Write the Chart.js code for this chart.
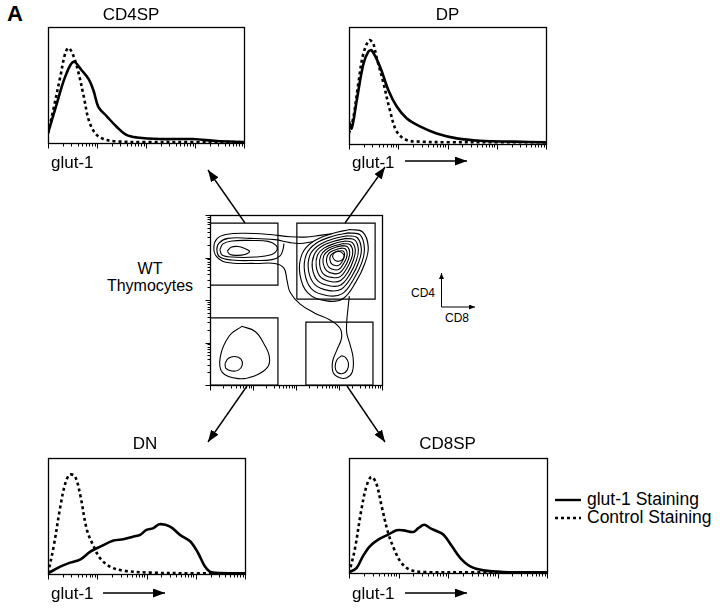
<!DOCTYPE html>
<html><head><meta charset="utf-8">
<script src="https://cdn.jsdelivr.net/npm/chart.js@4.4.1/dist/chart.umd.min.js"></script>
<style>
html,body{margin:0;padding:0;background:#fff;}
body{width:720px;height:608px;position:relative;overflow:hidden;font-family:"Liberation Sans",Arial,Helvetica,sans-serif;color:#000;}
canvas{position:absolute;}
.t{position:absolute;white-space:nowrap;line-height:1;}
svg{position:absolute;left:0;top:0;pointer-events:none;}
</style></head>
<body>
<canvas id="hCD4SP"></canvas>
<canvas id="hDP"></canvas>
<canvas id="hDN"></canvas>
<canvas id="hCD8SP"></canvas>
<canvas id="contour"></canvas>
<div id="texts"></div>
<svg width="720" height="608" viewBox="0 0 720 608">
  <defs>
    <marker id="ah" markerWidth="12" markerHeight="9" refX="12" refY="4.5" orient="auto" markerUnits="userSpaceOnUse"><path d="M0,0 L12,4.5 L0,9 z" fill="#000"/></marker>
    <marker id="ahs" markerWidth="6" markerHeight="5" refX="6" refY="2.5" orient="auto" markerUnits="userSpaceOnUse"><path d="M0,0 L6,2.5 L0,5 z" fill="#000"/></marker>
  </defs>
  <g stroke="#000" stroke-width="1.4" fill="none">
    <line x1="245" y1="223" x2="208" y2="170" marker-end="url(#ah)"/>
    <line x1="345" y1="223" x2="385" y2="167" marker-end="url(#ah)"/>
    <line x1="247" y1="386" x2="208" y2="442" marker-end="url(#ah)"/>
    <line x1="347" y1="386" x2="385" y2="442" marker-end="url(#ah)"/>
    <line x1="405" y1="161" x2="467" y2="161" marker-end="url(#ah)"/>
    <line x1="103" y1="593" x2="165" y2="593" marker-end="url(#ah)"/>
    <line x1="405" y1="593" x2="467" y2="593" marker-end="url(#ah)"/>
    <line x1="441.5" y1="307" x2="441.5" y2="273" stroke-width="1" marker-end="url(#ahs)"/>
    <line x1="441.5" y1="307" x2="475" y2="307" stroke-width="1" marker-end="url(#ahs)"/>
    <line x1="555" y1="500" x2="581" y2="500" stroke-width="2.4"/>
    <line x1="555" y1="518" x2="581" y2="518" stroke-width="2.4" stroke-dasharray="3 3"/>
  </g>
</svg>
<script>
// ---------------- DATA ----------------
// Histograms: x = log10 glut-1 fluorescence (decades 0..4), y = relative cell count (% of panel height)
const cd4spGlutX    = [0, 0.18, 0.35, 0.52, 0.69, 0.83, 0.93, 1.03, 1.2, 1.4, 1.6, 1.81, 2.28, 2.96, 3.44, 4.0];
const cd4spGlutY    = [8.5, 34, 57, 70, 62.5, 55, 45, 31, 23, 14, 7, 4.8, 3.4, 3.4, 1.7, 0.9];
const cd4spControlX = [0, 0.12, 0.25, 0.35, 0.42, 0.52, 0.62, 0.73, 0.83, 0.96, 1.13, 1.4, 2.0, 3.0, 4.0];
const cd4spControlY = [8.5, 31, 57, 77, 82, 75, 61, 40, 20, 8.5, 3.4, 1.4, 0.8, 0.8, 0.8];

const dpGlutX    = [0, 0.054, 0.156, 0.29, 0.39, 0.46, 0.63, 0.8, 0.97, 1.17, 1.44, 1.78, 2.19, 2.66, 3.34, 4.0];
const dpGlutY    = [19, 13.4, 37, 68, 78.7, 80, 66, 46, 32, 22, 15, 9, 4.8, 2.8, 2, 1.4];
const dpControlX = [0, 0.09, 0.19, 0.29, 0.41, 0.49, 0.56, 0.70, 0.83, 0.97, 1.17, 1.44, 2.0, 3.0, 4.0];
const dpControlY = [9, 23, 52, 77, 88.6, 86, 74, 52, 29, 10.5, 3.4, 2, 1.5, 1.5, 1.5];

const dnGlutX    = [0, 0.25, 0.45, 0.66, 0.86, 1.06, 1.33, 1.53, 1.74, 1.87, 2.0, 2.14, 2.26, 2.48, 2.68, 2.89, 3.05, 3.19, 3.32, 4.0];
const dnGlutY    = [0.6, 6.3, 9.8, 12.7, 19.3, 23.6, 28.8, 30, 32.3, 33.7, 38, 39.5, 42.9, 40.9, 33.7, 28, 17.9, 6.3, 1.4, 0.6];
const dnControlX = [0, 0.115, 0.25, 0.35, 0.44, 0.55, 0.66, 0.79, 0.93, 1.06, 1.26, 1.53, 2.07, 3.0, 4.0];
const dnControlY = [0.6, 23.6, 58, 78, 85.6, 84, 67, 38, 23.6, 13.5, 6.3, 2.9, 1.2, 0.6, 0.6];

const cd8spGlutX    = [0, 0.15, 0.28, 0.42, 0.59, 0.79, 0.96, 1.1, 1.3, 1.4, 1.52, 1.64, 1.77, 1.91, 2.08, 2.25, 2.45, 2.72, 3.12, 4.0];
const cd8spGlutY    = [0.6, 4.3, 14.5, 23.2, 29, 33.3, 37.1, 37.1, 35.7, 39, 42, 39, 36.5, 33.3, 23.2, 13, 5.8, 2.3, 0.9, 0.6];
const cd8spControlX = [0, 0.115, 0.25, 0.35, 0.45, 0.55, 0.66, 0.79, 0.93, 1.06, 1.23, 1.5, 2.5, 4.0];
const cd8spControlY = [0, 20, 55, 75, 83.5, 78, 58, 35, 19, 8.7, 2.9, 0.9, 0.6, 0.6];

const panelTitles = ['CD4SP', 'DP', 'DN', 'CD8SP'];
const seriesNames = ['glut-1 Staining', 'Control Staining'];
const axisLabel = 'glut-1';

// Contour plot: x = log10 CD8, y = log10 CD4 (decades 0..4)
const gateCD4SP = [[0,2.35],[0,3.81],[1.58,3.81],[1.58,2.35],[0,2.35]];
const gateDP    = [[2.02,2.02],[2.02,3.81],[3.84,3.81],[3.84,2.02],[2.02,2.02]];
const gateDN    = [[0,0],[0,1.58],[1.58,1.58],[1.58,0],[0,0]];
const gateCD8SP = [[2.23,0],[2.23,1.48],[3.79,1.48],[3.79,0],[2.23,0]];

const contourCD4Inner = [[0.40,3.15],[0.49,3.24],[0.65,3.26],[0.81,3.21],[0.92,3.14],[0.81,3.07],[0.63,3.05],[0.47,3.07],[0.40,3.15]];
const contourCD4Mid   = [[0.23,3.18],[0.30,3.32],[0.51,3.39],[0.98,3.40],[1.35,3.38],[1.53,3.29],[1.56,3.18],[1.44,3.07],[1.05,3.01],[0.51,3.01],[0.28,3.06],[0.23,3.18]];
const contourBandLow  = [[2.39,3.37],[2.09,3.33],[1.86,3.35],[1.51,3.42],[0.93,3.45],[0.42,3.45],[0.21,3.34],[0.16,3.18],[0.23,3.01],[0.51,2.94],[1.05,2.93],[1.44,2.95],[1.63,3.04],[1.70,3.20],[1.72,3.33]];
const contourOuter    = [[2.83,3.56],[2.56,3.52],[2.21,3.48],[1.86,3.49],[1.40,3.54],[0.81,3.57],[0.37,3.54],[0.16,3.44],[0.09,3.25],[0.14,3.04],[0.37,2.89],[1.05,2.86],[1.51,2.86],[1.72,2.75],[1.79,2.47],[1.86,2.19],[2.09,1.91],[2.44,1.69],[2.79,1.53],[3.02,1.34],[3.06,1.11],[2.95,0.82],[2.85,0.55],[2.87,0.28],[3.02,0.17],[3.18,0.17],[3.31,0.31],[3.33,0.63],[3.26,0.94],[3.18,1.22],[3.18,1.49],[3.21,1.81],[3.24,2.09]];
const contourDP1  = [[3.25,3.66],[3.55,3.60],[3.68,3.25],[3.60,2.86],[3.39,2.42],[3.09,2.03],[2.71,1.98],[2.28,2.16],[2.09,2.61],[2.14,3.08],[2.39,3.37],[2.83,3.56],[3.25,3.66]];
const contourDP2  = [[3.22,3.58],[3.49,3.53],[3.59,3.22],[3.53,2.88],[3.34,2.49],[3.08,2.15],[2.74,2.10],[2.36,2.26],[2.20,2.66],[2.24,3.07],[2.46,3.33],[2.85,3.50],[3.22,3.58]];
const contourDP3  = [[3.19,3.51],[3.42,3.47],[3.52,3.20],[3.46,2.90],[3.30,2.56],[3.06,2.26],[2.77,2.22],[2.44,2.36],[2.29,2.70],[2.33,3.07],[2.53,3.29],[2.87,3.44],[3.19,3.51]];
const contourDP4  = [[3.16,3.45],[3.37,3.41],[3.45,3.18],[3.40,2.92],[3.26,2.62],[3.05,2.36],[2.80,2.33],[2.51,2.45],[2.38,2.75],[2.42,3.06],[2.59,3.26],[2.88,3.38],[3.16,3.45]];
const contourDP5  = [[3.14,3.39],[3.31,3.35],[3.38,3.16],[3.33,2.93],[3.22,2.68],[3.04,2.46],[2.83,2.43],[2.58,2.53],[2.47,2.79],[2.50,3.06],[2.65,3.22],[2.90,3.33],[3.14,3.39]];
const contourDP6  = [[3.11,3.33],[3.26,3.30],[3.32,3.14],[3.28,2.95],[3.18,2.74],[3.03,2.55],[2.85,2.53],[2.64,2.61],[2.55,2.83],[2.58,3.05],[2.70,3.19],[2.91,3.28],[3.11,3.33]];
const contourDP7  = [[3.09,3.28],[3.20,3.25],[3.25,3.12],[3.22,2.96],[3.14,2.79],[3.02,2.64],[2.88,2.62],[2.71,2.69],[2.63,2.87],[2.65,3.05],[2.75,3.16],[2.92,3.24],[3.09,3.28]];
const contourDP8  = [[3.06,3.22],[3.15,3.20],[3.19,3.10],[3.17,2.98],[3.10,2.85],[3.01,2.73],[2.90,2.71],[2.77,2.77],[2.71,2.90],[2.73,3.04],[2.80,3.13],[2.94,3.19],[3.06,3.22]];
const contourDP9  = [[3.04,3.16],[3.10,3.15],[3.13,3.08],[3.11,2.99],[3.07,2.90],[3.00,2.82],[2.92,2.81],[2.83,2.85],[2.79,2.94],[2.80,3.04],[2.86,3.10],[2.95,3.14],[3.04,3.16]];
const contourDP10 = [[2.98,3.15],[3.06,3.12],[3.12,3.04],[3.08,2.95],[2.99,2.91],[2.90,2.94],[2.85,3.03],[2.90,3.12],[2.98,3.15]];
const contourDNOuter = [[0.74,1.38],[1.05,1.26],[1.26,0.96],[1.38,0.67],[1.34,0.42],[1.05,0.22],[0.66,0.15],[0.29,0.29],[0.24,0.67],[0.45,1.16],[0.74,1.38]];
const contourDNInner = [[0.35,0.51],[0.43,0.63],[0.58,0.67],[0.72,0.61],[0.75,0.47],[0.66,0.35],[0.51,0.33],[0.37,0.39],[0.35,0.51]];
const contourCD8Inner = [[3.06,0.69],[3.16,0.64],[3.22,0.51],[3.19,0.35],[3.09,0.27],[2.96,0.30],[2.91,0.43],[2.95,0.59],[3.06,0.69]];

// ---------------- RENDER ----------------
const BLACK = '#000';
const logTicks = [];
for (let k = 0; k < 4; k++) for (let m = 1; m < 10; m++) logTicks.push({v: k + Math.log10(m), major: m === 1});
logTicks.push({v: 4, major: true});

const framePlugin = {
  id: 'frame',
  afterDatasetsDraw(chart, args, opts) {
    const {ctx, chartArea: a, scales} = chart;
    ctx.save();
    ctx.strokeStyle = BLACK;
    ctx.lineWidth = opts.lw || 1.3;
    ctx.strokeRect(Math.round(a.left) + 0.5, Math.round(a.top) + 0.5, Math.round(a.right - a.left), Math.round(a.bottom - a.top));
    ctx.lineWidth = 1;
    ctx.beginPath();
    if (opts.bottom) {
      const yb = Math.round(a.bottom) + 0.5;
      for (const t of logTicks) {
        const x = Math.round(scales.x.getPixelForValue(t.v)) + 0.5;
        ctx.moveTo(x, yb); ctx.lineTo(x, yb + (t.major ? opts.major : opts.minor));
      }
    }
    if (opts.left) {
      const xl = Math.round(a.left) + 0.5;
      for (const t of logTicks) {
        const y = Math.round(scales.y.getPixelForValue(t.v)) + 0.5;
        ctx.moveTo(xl, y); ctx.lineTo(xl - (t.major ? opts.major : opts.minor), y);
      }
    }
    ctx.stroke();
    ctx.restore();
  }
};

const zip = (xs, ys) => xs.map((x, i) => ({x, y: ys[i]}));
const PAD = 12;

function placeCanvas(id, box) {
  const cv = document.getElementById(id);
  cv.width = box.w + 2 * PAD; cv.height = box.h + 2 * PAD;
  cv.style.left = (box.x - PAD) + 'px'; cv.style.top = (box.y - PAD) + 'px';
  cv.style.width = cv.width + 'px'; cv.style.height = cv.height + 'px';
  return cv;
}

function histogram(id, box, gX, gY, cX, cY) {
  const cv = placeCanvas(id, box);
  new Chart(cv, {
    type: 'line',
    data: {datasets: [
      {label: seriesNames[0], data: zip(gX, gY), borderColor: BLACK, borderWidth: 2.6, pointRadius: 0, tension: 0.35, fill: false, borderJoinStyle: 'round'},
      {label: seriesNames[1], data: zip(cX, cY), borderColor: BLACK, borderWidth: 2.6, borderDash: [3, 3], pointRadius: 0, tension: 0.35, fill: false}
    ]},
    options: {
      responsive: false, animation: false, events: [],
      layout: {padding: PAD},
      plugins: {legend: {display: false}, tooltip: {enabled: false}, frame: {bottom: true, major: 5, minor: 3, lw: 1.3}},
      scales: {x: {type: 'linear', min: 0, max: 4, display: false}, y: {min: 0, max: 100, display: false}}
    },
    plugins: [framePlugin]
  });
}

histogram('hCD4SP', {x: 48, y: 27, w: 196, h: 116}, cd4spGlutX, cd4spGlutY, cd4spControlX, cd4spControlY);
histogram('hDP',    {x: 349, y: 27, w: 197, h: 117}, dpGlutX, dpGlutY, dpControlX, dpControlY);
histogram('hDN',    {x: 48, y: 458, w: 197, h: 116}, dnGlutX, dnGlutY, dnControlX, dnControlY);
histogram('hCD8SP', {x: 349, y: 458, w: 198, h: 115}, cd8spGlutX, cd8spGlutY, cd8spControlX, cd8spControlY);

// contour plot
const gates = [gateCD4SP, gateDP, gateDN, gateCD8SP];
const contours = [contourCD4Inner, contourCD4Mid, contourBandLow, contourOuter,
  contourDP1, contourDP2, contourDP3, contourDP4, contourDP5, contourDP6, contourDP7, contourDP8, contourDP9, contourDP10,
  contourDNOuter, contourDNInner, contourCD8Inner];
const toPts = arr => arr.map(p => ({x: p[0], y: p[1]}));
const cvC = placeCanvas('contour', {x: 210, y: 215, w: 172, h: 170});
new Chart(cvC, {
  type: 'scatter',
  data: {datasets: [
    ...gates.map(g => ({data: toPts(g), showLine: true, borderColor: BLACK, borderWidth: 1.2, pointRadius: 0, tension: 0})),
    ...contours.map(c => ({data: toPts(c), showLine: true, borderColor: BLACK, borderWidth: 1.1, pointRadius: 0, tension: 0.4}))
  ]},
  options: {
    responsive: false, animation: false, events: [],
    layout: {padding: PAD},
    plugins: {legend: {display: false}, tooltip: {enabled: false}, frame: {bottom: true, left: true, major: 5, minor: 3, lw: 1.3}},
    scales: {x: {type: 'linear', min: 0, max: 4, display: false}, y: {type: 'linear', min: 0, max: 4, display: false}}
  },
  plugins: [framePlugin]
});

// texts
const texts = [
  {s: 'A', x: 7, y: 14, size: 22, bold: true, align: 'left'},
  {s: panelTitles[0], x: 131, y: 14, size: 17},
  {s: panelTitles[1], x: 447.5, y: 14, size: 17},
  {s: panelTitles[2], x: 145, y: 443, size: 17},
  {s: panelTitles[3], x: 447.5, y: 443, size: 17},
  {s: axisLabel, x: 51, y: 162, size: 17, align: 'left'},
  {s: axisLabel, x: 352, y: 162, size: 17, align: 'left'},
  {s: axisLabel, x: 51, y: 593, size: 17, align: 'left'},
  {s: axisLabel, x: 352, y: 593, size: 17, align: 'left'},
  {s: 'WT', x: 150, y: 269, size: 16},
  {s: 'Thymocytes', x: 150, y: 286, size: 16},
  {s: 'CD4', x: 423, y: 293, size: 12},
  {s: 'CD8', x: 457, y: 318, size: 12},
  {s: seriesNames[0], x: 587, y: 500, size: 17.5, align: 'left'},
  {s: seriesNames[1], x: 587, y: 518, size: 17.5, align: 'left'}
];
const holder = document.getElementById('texts');
for (const t of texts) {
  const d = document.createElement('div');
  d.className = 't';
  d.textContent = t.s;
  d.style.fontSize = t.size + 'px';
  if (t.bold) d.style.fontWeight = 'bold';
  d.style.left = t.x + 'px';
  d.style.top = t.y + 'px';
  d.style.transform = t.align === 'left' ? 'translate(0,-50%)' : 'translate(-50%,-50%)';
  holder.appendChild(d);
}
</script>
</body></html>
